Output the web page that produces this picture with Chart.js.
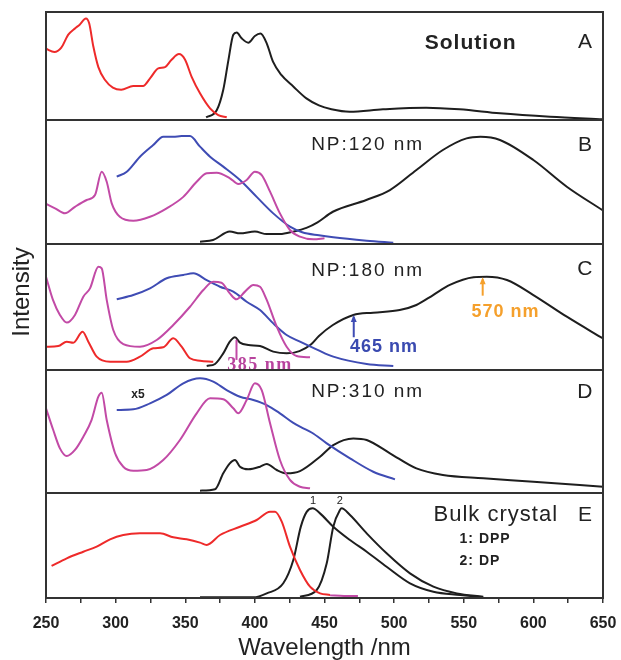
<!DOCTYPE html>
<html>
<head>
<meta charset="utf-8">
<script src="https://cdn.jsdelivr.net/npm/chart.js@4.4.0/dist/chart.umd.min.js"></script>
<style>
  html, body { margin: 0; padding: 0; background: #fff; }
  #wrap { width: 621px; height: 660px; position: relative; }
</style>
</head>
<body>
<div id="wrap"><canvas id="chart"></canvas></div>
<script>
// wavelength axis
const xTicks = [250, 300, 350, 400, 450, 500, 550, 600, 650];

// panel ids, titles and relative heights
const panelIds = ['yA', 'yB', 'yC', 'yD', 'yE'];
const panelLetters = ['A', 'B', 'C', 'D', 'E'];
const panelTitles = ['Solution', 'NP:120 nm', 'NP:180 nm', 'NP:310 nm', 'Bulk crystal'];
const panelHeights = [108, 124, 126, 123, 105];

// spectra: [wavelength nm, intensity in % of panel height]
// A - solution
const solAbs = [[250,66],[256,63],[261,67],[266,79],[271,85],[274,88],[278.7,94],[281,89.5],[284,68],[287.6,49],[292.4,37],[298,30],[304,28],[312.6,31.5],[319.7,31.5],[324.7,38.6],[330.6,47.8],[335.5,49],[340,55.5],[345.5,61],[349.8,56],[354.6,40],[360.6,24.7],[367.8,10.8],[373.7,4.6],[379.8,2.5]];
const solPL = [[365,2.5],[372.6,9],[377.3,28],[381,55.5],[384.5,79],[387,81],[390.5,75.6],[395.3,71.6],[400,77.8],[404,80],[408.5,71],[413,54],[419,41.7],[427.6,31],[437,20],[446,13.5],[455,10],[468,7.7],[492,9.9],[523,11.4],[547,9.9],[576,6.2],[612,3],[650,0.6]];

// B - NP 120 nm
const np120Abs = [[250,32.3],[256.5,28.8],[263.6,24.7],[270.8,30],[279.2,35.5],[285.2,39.5],[290,58.3],[293.6,50.2],[297.2,32.8],[303,22],[312.7,18.8],[324.7,22],[336.7,28.8],[348.6,38],[358.2,50.2],[365.4,57],[372.6,57.5],[382.1,53],[388.1,48.4],[394.1,51.6],[400,58.3],[404.9,55.6],[410.9,42.2],[418,24.7],[425.2,11.3],[432.4,5.9],[442,3.8],[450,4.6]];
const np120Exc = [[300.8,54.3],[308,58.3],[317.5,70.4],[327,79.8],[334.2,86.5],[341.4,86.5],[347.4,87],[353.4,87],[360.6,78.5],[367.8,70.4],[377.3,62.4],[389.3,51.6],[401.3,38],[413.2,24.7],[425.2,14],[434,9.5],[446,7],[456.3,5.4],[480.3,2.7],[499.4,1]];
const np120PL = [[360.6,1.9],[370,3.2],[382,10],[389.3,8.6],[400,10],[408.5,8],[418,8],[427.6,10],[437,13],[445,17.5],[456,26],[480,35.5],[497,43.5],[516,59.7],[535,75.8],[552,85.2],[562,86.5],[576,83.9],[600,67.7],[624,46.2],[650,27]];

// C - NP 180 nm
const np180Abs = [[250,74],[255,55.6],[260,43.7],[264.9,37.6],[270.8,43.7],[276.8,58.2],[281.6,64.8],[287.6,82],[290,80.7],[293.6,55.6],[298.3,31.7],[305.5,20.6],[317.5,18.5],[329.5,23.8],[341.4,35.7],[353.4,50.2],[363,63.5],[370.1,70],[376,69.3],[382,60.8],[386.8,56.1],[392.9,62.2],[398.9,67.5],[403.7,66.1],[408.5,55.6],[415.7,34.4],[422.8,18.5],[430,11.1],[439.6,10.1]];
const np180Exc = [[300.8,56.1],[312.7,59.5],[324.7,64.8],[336.7,72.8],[348.6,75.4],[355.8,76.7],[365.4,71.4],[374.9,66.1],[384.5,62.2],[394.1,54.2],[403.7,47.6],[413.2,37],[422.8,27.8],[432.4,22.5],[445,16],[456.3,10.6],[480.3,4.8],[499.4,3.2]];
const np180Sol = [[250,18.5],[258.8,19],[264.9,22.5],[269.6,21.7],[276.3,30.4],[280.4,22.5],[286.4,10.6],[296,6.6],[308,6.6],[317.5,10.6],[327,17.2],[334.2,18],[341.4,25.1],[347.4,18.5],[353.4,9.3],[360.6,7.4],[370.1,6.6]];
const np180PL = [[365.4,3.2],[371.4,4.8],[377.3,13.2],[382,22.5],[385.7,26],[389.3,21.7],[395.3,19.8],[403.7,19],[413.2,14.6],[422.8,13.2],[432,15],[440,20],[446,27],[456,35.7],[470.7,43.7],[485,45.5],[504,47.6],[516,51.6],[528,59.5],[540,67.5],[557,73.6],[566.5,74],[581,71.4],[600,59.5],[624,42.3],[650,25]];

// D - NP 310 nm
const np310Abs = [[250,68.9],[255.2,51.2],[260,36.3],[264.9,30],[270.8,35],[276.8,45.8],[282.7,59.3],[287.6,78.3],[290,81.6],[293.6,59.3],[299.6,32.3],[305.5,21.4],[312.7,18.1],[322.3,18.7],[334.2,26.8],[346.2,43.1],[358.2,64.8],[367.8,77],[377.3,76.2],[384.5,68.9],[388.1,64.8],[394.1,75.6],[400,89.2],[404.9,83.7],[410.9,56.7],[418,26.8],[425.2,10.6],[432.4,5.1],[439.6,3.8]];
const np310Exc = [[300.8,67.5],[312.7,68],[324.7,72.9],[336.7,79.7],[348.6,89.2],[360.6,93.2],[370.1,90.5],[379.7,83.7],[389.3,78.3],[398.9,75.6],[408.5,71.5],[418,64.8],[427.6,57],[434,53],[441,49],[451.6,40.4],[468.3,28.2],[485,17.3],[500.6,11.1]];
const np310PL = [[360.6,1.9],[371.4,3],[377.3,16],[382,24.1],[385.7,26.8],[389.3,21.4],[395.3,19.3],[403.7,21.4],[408.5,23.6],[415.7,18.7],[422.8,16],[432.4,17.8],[446.8,29.5],[456.3,39],[470.7,44.4],[480.3,43.1],[497,32.3],[516,20],[535,14.6],[564,12],[600,9.2],[650,5]];

// E - bulk crystal
const bulkAbs = [[254,30.5],[264.9,37.8],[276.8,44.1],[286.4,48.9],[296,55.9],[305.5,60],[317.5,61.6],[331.9,61.6],[341.4,57.8],[351,55.9],[360.6,52.7],[365.4,50.5],[375,60],[389.3,67.9],[401.3,74.3],[410.9,82.2],[414.5,82.2],[419.3,72.7],[425.2,48.9],[432.4,26.7],[439.6,10.8],[446.8,4.4],[454,2.9]];
const bulkTail = [[454,2.5],[464,2],[474,1.8]];
const dppPL = [[360.6,0.6],[398.9,0.6],[408.5,4.4],[420.4,14],[427.6,36.2],[433,68],[437.2,82],[441.5,85.4],[446.8,80.6],[456.3,67.9],[468.3,55.2],[480.3,44.1],[494.6,29.8],[511.4,14],[528.2,6],[547.4,2.9],[564,0.6]];
const dpPL = [[432.4,1.3],[444.4,7.6],[451.6,33],[456.3,67.9],[461.1,83.8],[462.3,85.4],[468.3,79],[480.3,61.6],[494.6,42.6],[511.4,23.5],[528.2,10.8],[545,4.4],[564,1.3]];

const RED = '#ee2a2a', BLACK = '#1e1e1e', BLUE = '#3f4cb4', MAGENTA = '#c24aa6';

function line(points, color, axis) {
    return {
        data: points.map(p => ({ x: p[0], y: p[1] })),
        borderColor: color,
        borderWidth: 2,
        pointRadius: 0,
        fill: false,
        cubicInterpolationMode: 'monotone',
        yAxisID: axis
    };
}

const datasets = [
    line(solAbs, RED, 'yA'), line(solPL, BLACK, 'yA'),
    line(np120Abs, MAGENTA, 'yB'), line(np120Exc, BLUE, 'yB'), line(np120PL, BLACK, 'yB'),
    line(np180Abs, MAGENTA, 'yC'), line(np180Exc, BLUE, 'yC'), line(np180Sol, RED, 'yC'), line(np180PL, BLACK, 'yC'),
    line(np310Abs, MAGENTA, 'yD'), line(np310Exc, BLUE, 'yD'), line(np310PL, BLACK, 'yD'),
    line(bulkAbs, RED, 'yE'), line(bulkTail, MAGENTA, 'yE'), line(dppPL, BLACK, 'yE'), line(dpPL, BLACK, 'yE')
];

const scales = {
    x: {
        type: 'linear', min: 250, max: 650,
        afterFit: scale => {
            scale.height = 62;
            scale.paddingLeft = 0;
            scale.paddingRight = 0;
        },
        ticks: {
            stepSize: 25, autoSkip: false, maxRotation: 0, padding: 11, color: '#222',
            font: { family: 'Liberation Sans, Arial, sans-serif', size: 16, weight: 'bold' },
            callback: v => xTicks.includes(v) ? v : ''
        },
        grid: { display: true, drawOnChartArea: false, tickLength: 5, color: '#333', lineWidth: 1.5 },
        border: { display: true, color: '#333', width: 2 },
        title: {
            display: true, text: 'Wavelength /nm', color: '#222',
            font: { family: 'Liberation Sans, Arial, sans-serif', size: 24, lineHeight: 1 },
            padding: { top: 2, bottom: 0 }
        }
    }
};
panelIds.forEach((id, i) => {
    scales[id] = {
        type: 'linear', position: 'left', min: 0, max: 100,
        stack: 'panels', stackWeight: panelHeights[i], weight: panelIds.length - i,
        ticks: { display: false }, grid: { display: false }, border: { display: false }
    };
});

function txt(ctx, s, x, y, font, color, align, spacing) {
    ctx.font = font;
    ctx.fillStyle = color;
    ctx.textAlign = align || 'center';
    ctx.textBaseline = 'middle';
    ctx.letterSpacing = (spacing || 0) + 'px';
    ctx.fillText(s, x, y);
    ctx.letterSpacing = '0px';
}

function arrow(ctx, x, y0, y1, color, head) {
    ctx.strokeStyle = color;
    ctx.fillStyle = color;
    ctx.lineWidth = 2;
    ctx.beginPath();
    ctx.moveTo(x, y0);
    ctx.lineTo(x, y1);
    ctx.stroke();
    if (head) {
        ctx.beginPath();
        ctx.moveTo(x, y1 - 2);
        ctx.lineTo(x - 3, y1 + 5);
        ctx.lineTo(x + 3, y1 + 5);
        ctx.closePath();
        ctx.fill();
    }
}

const panelPlugin = {
    id: 'panels',
    afterDatasetsDraw(chart) {
        const { ctx, chartArea, scales: s } = chart;
        const X = v => s.x.getPixelForValue(v);
        const Y = (id, v) => s[id].getPixelForValue(v);
        const sans = 'Liberation Sans, Arial, sans-serif';
        ctx.save();

        // peak markers in panel C
        arrow(ctx, X(386.8), Y('yC', 8), Y('yC', 24), MAGENTA, false);
        arrow(ctx, X(471), Y('yC', 26), Y('yC', 42), BLUE, true);
        arrow(ctx, X(563.6), Y('yC', 59), Y('yC', 72), '#f5a02c', true);
        txt(ctx, '385 nm', X(403.7), Y('yC', 4), 'bold 18px Liberation Serif, serif', '#b8449e', 'center', 1.5);
        txt(ctx, '465 nm', X(492.7), Y('yC', 18), 'bold 18px ' + sans, '#3a4ab0', 'center', 1);
        txt(ctx, '570 nm', X(580), Y('yC', 46), 'bold 18px ' + sans, '#f5a02c', 'center', 1);

        // frames
        ctx.strokeStyle = '#333';
        ctx.lineWidth = 2;
        panelIds.forEach(id => {
            const sc = s[id];
            ctx.strokeRect(chartArea.left, sc.top, chartArea.right - chartArea.left, sc.bottom - sc.top);
        });

        // panel titles and letters
        txt(ctx, panelTitles[0], X(555), Y('yA', 71), 'bold 21px ' + sans, '#222', 'center', 1);
        txt(ctx, panelTitles[1], X(481), Y('yB', 80), '19px ' + sans, '#222', 'center', 2);
        txt(ctx, panelTitles[2], X(481), Y('yC', 79), '19px ' + sans, '#222', 'center', 2);
        txt(ctx, panelTitles[3], X(481), Y('yD', 82), '19px ' + sans, '#222', 'center', 2);
        txt(ctx, panelTitles[4], X(573), Y('yE', 79), '22px ' + sans, '#222', 'center', 1);
        const letterY = [72, 80, 80, 82, 79];
        panelIds.forEach((id, i) => {
            txt(ctx, panelLetters[i], X(637), Y(id, letterY[i]), '21px ' + sans, '#222', 'center');
        });
        txt(ctx, 'x5', X(316), Y('yD', 80), 'bold 12px ' + sans, '#222', 'center');
        txt(ctx, '1: DPP', X(547), Y('yE', 56), 'bold 14px ' + sans, '#222', 'left', 1);
        txt(ctx, '2: DP', X(547), Y('yE', 35), 'bold 14px ' + sans, '#222', 'left', 1);
        txt(ctx, '1', X(441.7), Y('yE', 92), '11px ' + sans, '#222', 'center');
        txt(ctx, '2', X(461), Y('yE', 92), '11px ' + sans, '#222', 'center');

        // shared y label
        ctx.translate(22, (chartArea.top + chartArea.bottom) / 2 - 13);
        ctx.rotate(-Math.PI / 2);
        txt(ctx, 'Intensity', 0, 0, '24px ' + sans, '#222', 'center');
        ctx.restore();
    }
};

new Chart(document.getElementById('chart'), {
    type: 'line',
    data: { datasets },
    options: {
        responsive: true,
        maintainAspectRatio: false,
        animation: false,
        layout: { padding: { top: 12, left: 38, right: 18, bottom: 0 } },
        plugins: { legend: { display: false }, tooltip: { enabled: false } },
        scales
    },
    plugins: [panelPlugin]
});
</script>
</body>
</html>
